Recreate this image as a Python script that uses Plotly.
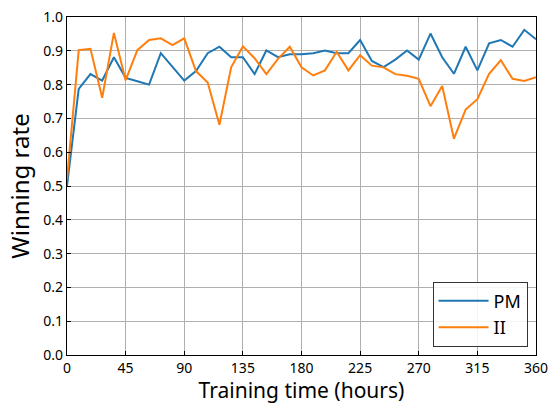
import plotly.graph_objects as go

hours = [i * 9 for i in range(41)]
pm = [0.50, 0.787, 0.831, 0.812, 0.881, 0.82, 0.81, 0.80, 0.893, 0.852,
      0.812, 0.84, 0.893, 0.912, 0.881, 0.881, 0.831, 0.901, 0.881, 0.89,
      0.89, 0.893, 0.901, 0.893, 0.893, 0.932, 0.87, 0.852, 0.874, 0.901,
      0.874, 0.951, 0.881, 0.832, 0.912, 0.842, 0.922, 0.932, 0.912, 0.962,
      0.934]
ii = [0.52, 0.902, 0.906, 0.761, 0.953, 0.813, 0.902, 0.932, 0.937, 0.917,
      0.937, 0.84, 0.806, 0.681, 0.851, 0.913, 0.878, 0.831, 0.876, 0.912,
      0.851, 0.827, 0.842, 0.897, 0.842, 0.887, 0.856, 0.851, 0.831, 0.826,
      0.817, 0.736, 0.796, 0.64, 0.726, 0.757, 0.832, 0.872, 0.817, 0.811,
      0.822]
x_ticks = list(range(0, 361, 45))
y_ticks = [round(v * 0.1, 1) for v in range(11)]

font = "Noto Sans, sans-serif"

fig = go.Figure()
fig.add_trace(go.Scatter(x=hours, y=pm, mode="lines", name="PM",
                         line=dict(color="#1f77b4", width=2)))
fig.add_trace(go.Scatter(x=hours, y=ii, mode="lines", name="II",
                         line=dict(color="#ff7f0e", width=2)))

axis_common = dict(showgrid=True, gridcolor="#b0b0b0", gridwidth=1,
                   showline=True, linecolor="black", linewidth=1.3, mirror=True,
                   ticks="inside", ticklen=4, tickcolor="black",
                   tickfont=dict(size=14, color="black", family=font),
                   ticklabeloverflow="allow",
                   zeroline=False)

fig.update_layout(
    width=558, height=404,
    margin=dict(l=67, r=22, t=7, b=49),
    paper_bgcolor="white", plot_bgcolor="white",
    font=dict(family=font, color="black"),
    xaxis=dict(range=[0, 360], tickvals=x_ticks,
               ticktext=[str(v) for v in x_ticks],
               title=dict(text="Training time (hours)", font=dict(size=21), standoff=2),
               **axis_common),
    yaxis=dict(range=[0, 1.0], tickvals=y_ticks,
               ticktext=[f"{v:.1f}" for v in y_ticks],
               title=dict(text="Winning rate", font=dict(size=24), standoff=6),
               **axis_common),
    legend=dict(x=0.982, y=0.025, xanchor="right", yanchor="bottom",
                bgcolor="rgba(255,255,255,0.85)", bordercolor="#333333", borderwidth=1,
                font=dict(size=18, family=font), itemwidth=50,
                entrywidth=50, entrywidthmode="pixels",
                tracegroupgap=4),
    showlegend=True,
)

fig.write_html("out.html")
